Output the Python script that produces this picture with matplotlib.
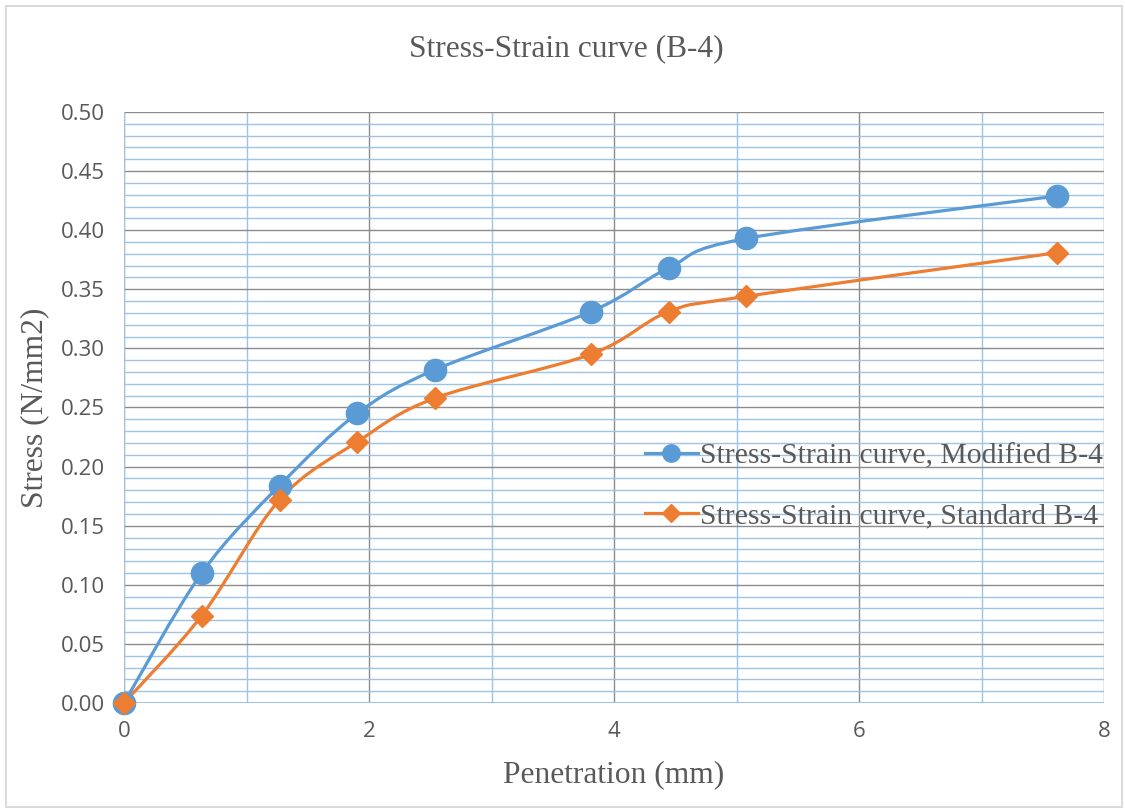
import numpy as np
import matplotlib.pyplot as plt
import matplotlib.patches as mpatches
from matplotlib.path import Path
from matplotlib.lines import Line2D
from matplotlib.ticker import MultipleLocator, FormatStrFormatter

# Penetration readings (mm) and stresses (N/mm2)
penetration = [0, 0.635, 1.27, 1.905, 2.54, 3.81, 4.445, 5.08, 7.62]
stress_modified = [0, 0.110, 0.184, 0.245, 0.282, 0.331, 0.368, 0.393, 0.429]
stress_standard = [0, 0.074, 0.172, 0.221, 0.258, 0.295, 0.331, 0.344, 0.381]

label_modified = "Stress-Strain curve, Modified B-4"
label_standard = "Stress-Strain curve, Standard B-4"

blue = "#5B9BD5"
orange = "#ED7D31"
text_grey = "#595959"
major_grid = "#8C8C8C"
minor_grid = "#9DC3E6"

serif = ["Liberation Serif", "DejaVu Serif"]
sans = ["Open Sans", "DejaVu Sans"]


def smooth_path(x, y):
    # cubic bezier through every point, Excel-style "smoothed line"
    x = np.asarray(x, float)
    y = np.asarray(y, float)
    n = len(x)
    verts = [(x[0], y[0])]
    codes = [Path.MOVETO]
    for i in range(n - 1):
        i0 = max(i - 1, 0)
        i3 = min(i + 2, n - 1)
        c1 = (x[i] + (x[i + 1] - x[i0]) / 6, y[i] + (y[i + 1] - y[i0]) / 6)
        c2 = (x[i + 1] - (x[i3] - x[i]) / 6, y[i + 1] - (y[i3] - y[i]) / 6)
        verts += [c1, c2, (x[i + 1], y[i + 1])]
        codes += [Path.CURVE4] * 3
    return Path(verts, codes)


fig = plt.figure(figsize=(11.25, 8.1), dpi=100)
ax = fig.add_axes([124 / 1125, 107 / 810, 980 / 1125, 591 / 810])

# outer chart border
fig.patches.append(mpatches.Rectangle((6 / 1125, 3 / 810), 1 - 9 / 1125, 1 - 9 / 810,
                                      transform=fig.transFigure, fill=False,
                                      edgecolor="#D9D9D9", linewidth=1.4))

ax.set_xlim(0, 8)
ax.set_ylim(0, 0.5)
ax.xaxis.set_major_locator(MultipleLocator(2))
ax.xaxis.set_minor_locator(MultipleLocator(1))
ax.yaxis.set_major_locator(MultipleLocator(0.05))
ax.yaxis.set_minor_locator(MultipleLocator(0.01))
ax.yaxis.set_major_formatter(FormatStrFormatter("%.2f"))

ax.grid(which="minor", color=minor_grid, linewidth=1.0, zorder=0)
ax.grid(which="major", color=major_grid, linewidth=1.0, zorder=0)
ax.set_axisbelow(True)
ax.axvline(0, color=minor_grid, linewidth=1.5, zorder=1)
ax.axhline(0, color=minor_grid, linewidth=1.5, zorder=1)
for s in ax.spines.values():
    s.set_visible(False)

ax.tick_params(which="both", length=0, colors=text_grey, labelsize=16)
ax.tick_params(axis="y", pad=14)
ax.tick_params(axis="x", pad=13)
for lbl in ax.get_xticklabels() + ax.get_yticklabels():
    lbl.set_fontfamily(sans)

for ys, col in [(stress_modified, blue), (stress_standard, orange)]:
    ax.add_patch(mpatches.PathPatch(smooth_path(penetration, ys), fill=False,
                                    edgecolor=col, linewidth=2.3, zorder=3,
                                    capstyle="round", joinstyle="round"))

ax.plot(penetration, stress_modified, linestyle="none", marker="o", markersize=16,
        color=blue, zorder=4, clip_on=False)
ax.plot(penetration, stress_standard, linestyle="none", marker="D", markersize=11.5,
        color=orange, zorder=5, clip_on=False)

handles = [
    Line2D([], [], color=blue, linewidth=2.3, marker="o", markersize=12.5),
    Line2D([], [], color=orange, linewidth=2.3, marker="D", markersize=9),
]
leg = ax.legend(handles, [label_modified, label_standard], loc="center left",
                bbox_to_anchor=(509 / 980, (703 - 486) / 591), frameon=False,
                prop={"family": serif, "size": 21.3}, handlelength=1.8,
                handletextpad=0.08, labelspacing=1.1, borderaxespad=0)
for t in leg.get_texts():
    t.set_color(text_grey)

fig.text(0.503, 1 - 49 / 810, "Stress-Strain curve (B-4)", ha="center", va="center",
         fontsize=22.7, family=serif, color=text_grey)
ax.set_xlabel("Penetration (mm)", fontsize=22.7, family=serif, color=text_grey, labelpad=13)
ax.set_ylabel("Stress (N/mm2)", fontsize=22.7, family=serif, color=text_grey, labelpad=8)

fig.savefig("out.png", dpi=100)
